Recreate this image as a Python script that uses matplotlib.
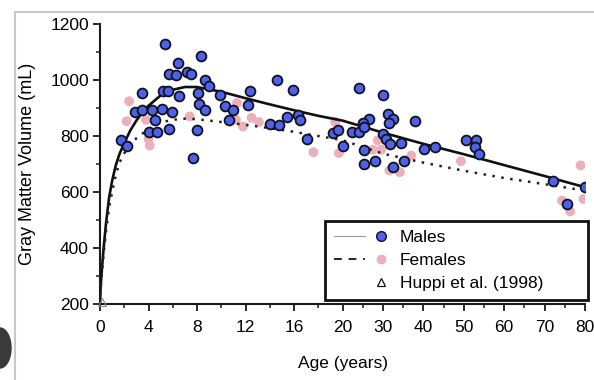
import numpy as np
import matplotlib
matplotlib.use('Agg')
import matplotlib.pyplot as plt
from matplotlib.lines import Line2D
from matplotlib.legend_handler import HandlerTuple
from matplotlib.patches import Rectangle, Ellipse

plt.rcParams['font.family'] = ['Liberation Sans', 'DejaVu Sans']

# individual subjects (age in years, gray matter volume in mL)
male_age = [5.4, 8.3, 6.4, 5.7, 6.3, 7.2, 7.5, 8.7, 3.5, 5.2, 5.6, 6.5, 8.1, 8.2,
            8.7, 2.9, 3.5, 4.3, 5.1, 5.9, 4.5, 4.0, 4.7, 5.7, 8.0, 1.7, 2.2, 7.7,
            9.0, 9.9, 12.4, 14.6, 15.9, 12.2, 10.3, 11.0, 10.6, 14.0, 14.8, 15.4,
            16.3, 16.5, 17.1, 19.2, 19.6, 20.0,
            24.2, 30.0, 26.5, 25.0, 31.2, 32.4, 31.6, 38.0, 22.4, 24.0, 25.4, 30.0,
            30.8, 25.2, 31.8, 34.5, 40.2, 43.0, 25.4, 28.1, 32.4, 35.3,
            50.5, 53.0, 52.8, 53.8, 72.1, 80.0, 75.5]
male_vol = [1128, 1085, 1059, 1020, 1017, 1029, 1021, 999, 955, 960, 960, 942, 952, 916,
            892, 886, 894, 894, 895, 886, 858, 816, 816, 826, 820, 787, 766, 722,
            978, 945, 961, 999, 963, 912, 906, 892, 858, 844, 838, 868,
            874, 858, 790, 810, 820, 766,
            973, 946, 862, 846, 880, 862, 846, 852, 814, 814, 832, 808,
            790, 751, 770, 775, 755, 760, 701, 710, 691, 710,
            784, 787, 760, 737, 641, 619, 557]

female_age = [2.4, 2.2, 3.8, 4.0, 4.1, 7.4, 11.3, 11.2, 11.8, 12.5, 13.1, 17.6, 19.4,
              19.7, 27.5, 29.6, 28.7, 37.0, 25.4, 31.6, 34.2, 49.3, 78.9, 74.3, 79.6, 76.3]
female_vol = [924, 853, 858, 790, 766, 870, 918, 858, 834, 865, 850, 742, 850,
              739, 751, 751, 784, 730, 698, 677, 671, 710, 695, 569, 575, 531]

# fitted curves
male_fit_age = [0, 0.05, 0.15, 0.3, 0.5, 0.75, 1.0, 1.3, 1.6, 2.0, 2.5, 3.0, 3.5, 4.0,
                5.0, 6.0, 7.0, 8.0, 10, 12, 14, 16, 18, 20, 30, 40, 50, 60, 70, 80]
male_fit_vol = [200, 260, 320, 400, 490, 580, 640, 695, 735, 775, 820, 855, 885, 908,
                945, 965, 975, 975, 958, 935, 913, 892, 872, 855, 812, 772, 735, 696, 657, 617]
female_fit_age = [0, 0.05, 0.15, 0.3, 0.5, 0.75, 1.0, 1.3, 1.6, 2.0, 2.5, 3.0, 4.0, 5.0,
                  6.0, 7.0, 8.0, 10, 12, 14, 16, 18, 20, 30, 40, 50, 60, 70, 80]
female_fit_vol = [200, 250, 305, 380, 460, 545, 600, 660, 705, 738, 768, 792, 825, 848,
                  858, 862, 860, 850, 840, 828, 815, 800, 785, 737, 705, 676, 650, 628, 605]

huppi_age = [0.15]
huppi_vol = [208]

x_major = [0, 4, 8, 12, 16, 20, 30, 40, 50, 60, 70, 80]
x_minor = [2, 6, 10, 14, 18, 25, 35, 45, 55, 65, 75]

blue = '#4d62e6'
pink = '#ebb0ba'


def fwd(x):
    x = np.asarray(x, dtype=float)
    return np.where(x <= 20, x / 20.0, 1 + (x - 20) / 60.0)


def inv(y):
    y = np.asarray(y, dtype=float)
    return np.where(y <= 1, y * 20.0, 20 + (y - 1) * 60.0)


fig = plt.figure(figsize=(5.94, 3.80), dpi=100)
ax = fig.add_axes([100 / 594, 0.2, 485 / 594, 280 / 380])
ax.set_xscale('function', functions=(fwd, inv))

ax.scatter(female_age, female_vol, s=50, color=pink, edgecolors='none', zorder=2)
ax.plot(male_fit_age, male_fit_vol, color='#111111', lw=1.9, zorder=3)
ax.plot(female_fit_age, female_fit_vol, color='#222222', lw=1.8,
        linestyle=(0, (1, 2.6)), zorder=3)
ax.scatter(male_age, male_vol, s=50, color=blue, edgecolors='#111122',
           linewidths=1.3, zorder=4)
ax.plot(huppi_age, huppi_vol, ls='none', marker='^', ms=6, mfc='none',
        mec='#888888', mew=0.8, clip_on=False, zorder=5)

ax.set_xlim(0, 80)
ax.set_ylim(200, 1200)
ax.set_xticks(x_major)
ax.set_xticks(x_minor, minor=True)
ax.set_yticks(range(200, 1201, 200))
ax.set_yticks(range(300, 1200, 200), minor=True)
ax.set_xticklabels([str(v) for v in x_major])

for side in ['top', 'right']:
    ax.spines[side].set_visible(False)
for side in ['left', 'bottom']:
    ax.spines[side].set_linewidth(1.5)
    ax.spines[side].set_color('#1a1a1a')

ax.tick_params(which='major', length=5, width=1.3, labelsize=12.5, color='#1a1a1a')
ax.tick_params(which='minor', length=3, width=1.1, color='#1a1a1a')
ax.tick_params(axis='x', which='major', pad=6.5)
ax.tick_params(axis='y', which='major', pad=3)

ax.set_xlabel('Age (years)', fontsize=12.5, labelpad=15)
ax.set_ylabel('Gray Matter Volume (mL)', fontsize=13, labelpad=10)

# legend
h_male = (Line2D([], [], color='#999999', lw=0.8),
          Line2D([], [], ls='none', marker='o', ms=7, mfc=blue, mec='#111122', mew=1))
h_female = (Line2D([], [], color='#222222', lw=1.4, dashes=(4, 3.5)),
            Line2D([], [], ls='none', marker='o', ms=7, mfc=pink, mec='none'))
h_huppi = (Line2D([], [], ls='none'),
           Line2D([], [], ls='none', marker='^', ms=6, mfc='none', mec='#111111', mew=0.9))
leg = ax.legend([h_male, h_female, h_huppi], ['Males', 'Females', 'Huppi et al. (1998)'],
                handler_map={tuple: HandlerTuple(ndivide=None, pad=0)},
                loc='lower left', bbox_to_anchor=(225 / 485, 0.015, 263 / 485, 0.3),
                mode='expand', borderaxespad=0, fontsize=12.5, handlelength=3.6,
                handletextpad=0.2, labelspacing=0.45, borderpad=0.5, numpoints=1,
                fancybox=False, framealpha=1)
leg.get_frame().set_edgecolor('#111111')
leg.get_frame().set_linewidth(2)

# screenshot frame
fig.add_artist(Rectangle((15 / 594, -0.1), 1.2, 1 - 12 / 380 + 0.1,
                         transform=fig.transFigure, fill=False, ec='#c8c8c8', lw=1.5))
fig.add_artist(Ellipse((0, 1 - 348 / 380), 22 / 594, 40 / 380,
                       transform=fig.transFigure, color='#3a3a3a'))

fig.savefig('out.png', dpi=100)
